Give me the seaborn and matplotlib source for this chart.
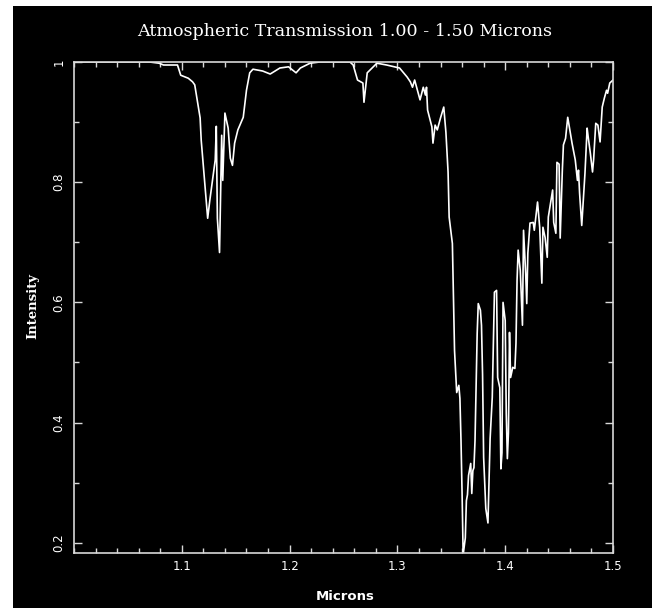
import matplotlib
matplotlib.use("Agg")
import matplotlib.pyplot as plt
import matplotlib.patches as mpatches
from matplotlib.ticker import MultipleLocator, FixedLocator, FixedFormatter
import seaborn as sns
import pandas as pd

microns = [1.000, 1.070, 1.079, 1.083, 1.096, 1.099, 1.106, 1.110, 1.112, 1.117, 1.118, 1.124, 1.126,
           1.131, 1.132, 1.133, 1.135, 1.137, 1.138, 1.140, 1.143, 1.145, 1.147, 1.149, 1.152, 1.157,
           1.160, 1.163, 1.166, 1.175, 1.182, 1.191, 1.199, 1.206, 1.210, 1.219, 1.228, 1.256, 1.259,
           1.263, 1.268, 1.269, 1.272, 1.281, 1.290, 1.302, 1.309, 1.312, 1.314, 1.316, 1.321, 1.324,
           1.326, 1.327, 1.328, 1.332, 1.333, 1.335, 1.337, 1.340, 1.343, 1.345, 1.347, 1.348, 1.351,
           1.352, 1.353, 1.355, 1.357, 1.358, 1.359, 1.360, 1.361, 1.363, 1.364, 1.365, 1.366, 1.368,
           1.369, 1.370, 1.371, 1.372, 1.374, 1.375, 1.377, 1.378, 1.379, 1.380, 1.382, 1.384, 1.385,
           1.386, 1.388, 1.390, 1.392, 1.393, 1.395, 1.396, 1.397, 1.398, 1.400, 1.401, 1.402, 1.403,
           1.404, 1.405, 1.407, 1.409, 1.410, 1.411, 1.412, 1.414, 1.416, 1.417, 1.419, 1.420, 1.421,
           1.423, 1.426, 1.427, 1.430, 1.432, 1.434, 1.435, 1.437, 1.439, 1.440, 1.442, 1.444, 1.445,
           1.447, 1.448, 1.450, 1.451, 1.453, 1.454, 1.456, 1.458, 1.460, 1.462, 1.465, 1.467, 1.468,
           1.469, 1.471, 1.472, 1.474, 1.476, 1.477, 1.479, 1.481, 1.482, 1.484, 1.486, 1.488, 1.490,
           1.492, 1.494, 1.495, 1.497, 1.500]
intensity = [1.0, 1.0, 0.998, 0.995, 0.995, 0.978, 0.973, 0.967, 0.962, 0.907, 0.87, 0.74, 0.77,
             0.837, 0.893, 0.74, 0.683, 0.878, 0.803, 0.915, 0.89, 0.84, 0.828, 0.865, 0.887, 0.908,
             0.953, 0.982, 0.988, 0.985, 0.980, 0.990, 0.992, 0.982, 0.990, 0.998, 1.0, 1.0, 0.995,
             0.97, 0.965, 0.933, 0.982, 0.998, 0.995, 0.99, 0.975, 0.967, 0.958, 0.97, 0.937, 0.958,
             0.945, 0.958, 0.92, 0.892, 0.865, 0.895, 0.887, 0.907, 0.925, 0.883, 0.817, 0.742, 0.698,
             0.61, 0.52, 0.45, 0.462, 0.44, 0.37, 0.282, 0.18, 0.208, 0.27, 0.28, 0.312, 0.332,
             0.282, 0.32, 0.325, 0.37, 0.548, 0.598, 0.587, 0.562, 0.48, 0.342, 0.257, 0.233, 0.303,
             0.373, 0.442, 0.617, 0.62, 0.475, 0.458, 0.323, 0.35, 0.60, 0.57, 0.415, 0.34, 0.383,
             0.55, 0.475, 0.492, 0.49, 0.532, 0.637, 0.687, 0.653, 0.562, 0.72, 0.648, 0.598, 0.682,
             0.732, 0.733, 0.72, 0.767, 0.725, 0.632, 0.725, 0.708, 0.675, 0.742, 0.765, 0.787, 0.733,
             0.715, 0.833, 0.83, 0.707, 0.82, 0.862, 0.873, 0.908, 0.887, 0.865, 0.837, 0.803, 0.82,
             0.782, 0.728, 0.758, 0.815, 0.89, 0.875, 0.848, 0.817, 0.837, 0.898, 0.895, 0.867, 0.925,
             0.94, 0.953, 0.948, 0.965, 0.97]

x_ticks = [1.1, 1.2, 1.3, 1.4, 1.5]
x_ticklabels = ["1.1", "1.2", "1.3", "1.4", "1.5"]
y_ticks = [0.2, 0.4, 0.6, 0.8, 1.0]
y_ticklabels = ["0.2", "0.4", "0.6", "0.8", "1"]

title = "Atmospheric Transmission 1.00 - 1.50 Microns"

sns.set_theme(style="dark")
W, H = 652, 608
fig = plt.figure(figsize=(W / 100, H / 100), dpi=100, facecolor="black")
fig.patches.append(mpatches.Rectangle((0, 0), 13 / W, 1, transform=fig.transFigure,
                                      facecolor="white", edgecolor="none", zorder=0))
fig.patches.append(mpatches.Rectangle((0, 1 - 6 / H), 1, 6 / H, transform=fig.transFigure,
                                      facecolor="white", edgecolor="none", zorder=0))

ax = fig.add_axes([74 / W, 1 - 553 / H, 539 / W, 491 / H])
ax.set_facecolor("black")

df = pd.DataFrame({"Microns": microns, "Intensity": intensity})
sns.lineplot(data=df, x="Microns", y="Intensity", ax=ax, color="white", linewidth=1.2,
             estimator=None, sort=False)

ax.set_xlim(1.0, 1.5)
ax.set_ylim(0.183, 1.0)
ax.grid(False)
for s in ax.spines.values():
    s.set_color("#d8d8d8")
    s.set_linewidth(1.2)

ax.xaxis.set_major_locator(FixedLocator(x_ticks))
ax.xaxis.set_major_formatter(FixedFormatter(x_ticklabels))
ax.xaxis.set_minor_locator(MultipleLocator(0.02))
ax.yaxis.set_major_locator(FixedLocator(y_ticks))
ax.yaxis.set_major_formatter(FixedFormatter(y_ticklabels))
ax.yaxis.set_minor_locator(MultipleLocator(0.1))

ax.tick_params(which="both", direction="in", colors="#d8d8d8", top=True, right=True,
               bottom=True, left=True, width=1)
ax.tick_params(which="major", length=6, labelsize=8.5, labelcolor="white")
ax.tick_params(which="minor", length=3.5)
for lab in ax.get_yticklabels():
    lab.set_rotation(90)
    lab.set_va("center")
ax.tick_params(axis="y", pad=6)
ax.tick_params(axis="x", pad=5)

ax.set_xlabel("")
ax.set_ylabel("")
fig.text(345 / W, 1 - 31 / H, title, ha="center", va="center", color="white",
         fontsize=12.6, family="DejaVu Serif")
fig.text(345 / W, 1 - 597 / H, "Microns", ha="center", va="center", color="white",
         fontsize=9.5, family="DejaVu Sans", fontweight="bold")
fig.text(33 / W, 1 - 306 / H, "Intensity", ha="center", va="center", color="white",
         fontsize=9.5, family="DejaVu Serif", fontweight="bold", rotation=90)

fig.savefig("out.png", dpi=100, facecolor=fig.get_facecolor())
